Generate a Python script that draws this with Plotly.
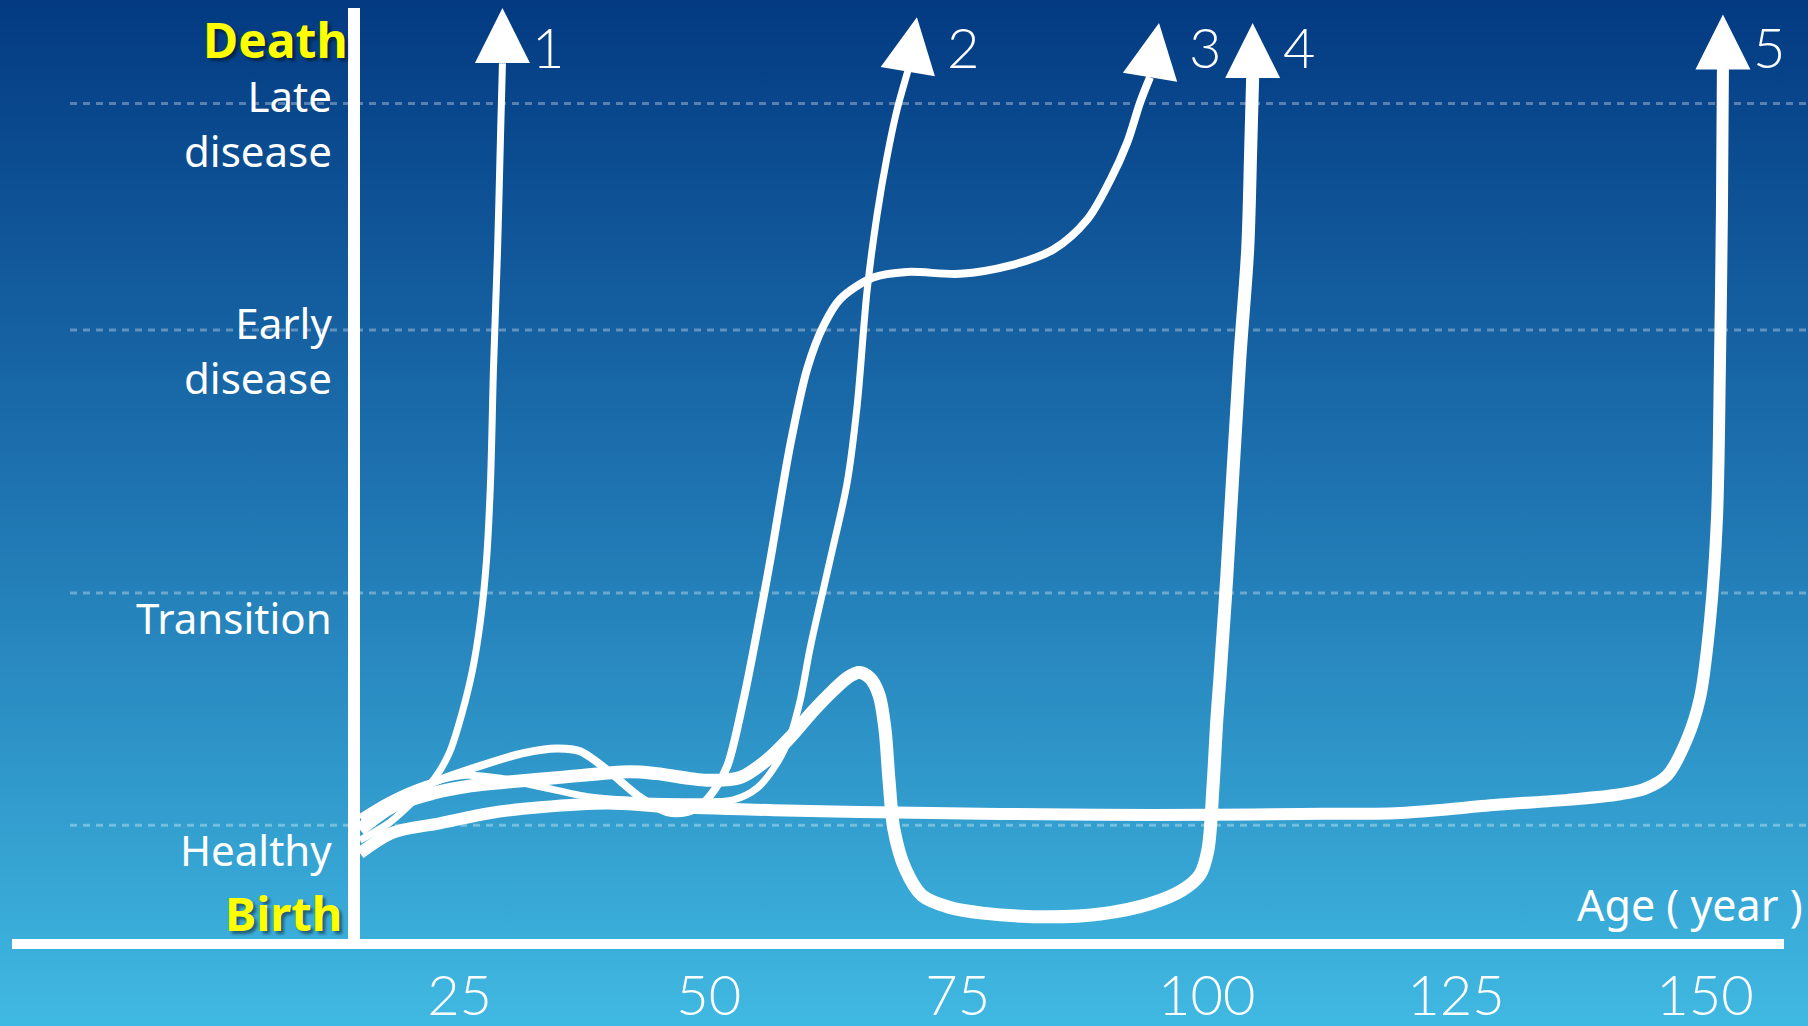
import base64
import plotly.graph_objects as go

# ---- axes: age in years, health state on a 0 (birth) .. 100 (death) scale ----
age_ticks = [25, 50, 75, 100, 125, 150]
level_names = ["Healthy", "Transition", "Early<br>disease", "Late<br>disease"]
level_values = [12.7, 37.5, 65.6, 89.8]

# ---- five life trajectories (age, health level) ----
path1_age = [15.0, 18.0, 20.5, 22.5, 24.0, 25.2, 26.3, 27.1, 27.7, 28.1, 28.4, 28.8, 29.1, 29.3]
path1_level = [11.1, 13.0, 15.4, 17.7, 20.5, 24.5, 29.3, 34.6, 41.0, 49.3, 61.5, 73.8, 86.1, 94.1]

path2_age = [15.0, 18.0, 21.5, 25.3, 29.1, 33.1, 38.1, 43.1, 48.1, 50.4, 52.5, 54.9, 56.9, 58.2,
             59.2, 60.2, 62.2, 63.9, 64.9, 65.9, 66.9, 67.9, 68.9, 70.0]
path2_level = [13.5, 15.4, 17.0, 18.0, 17.7, 16.8, 15.7, 15.3, 15.2, 15.2, 15.4, 16.7, 19.4, 22.3,
               26.1, 31.7, 41.1, 49.3, 57.5, 69.8, 77.9, 84.1, 89.1, 93.3]

path3_age = [15.0, 18.0, 22.0, 26.4, 31.4, 34.8, 37.1, 39.8, 43.1, 45.8, 47.8, 49.3, 50.6, 51.9,
             53.5, 54.7, 56.2, 58.2, 59.9, 61.5, 63.2, 66.5, 69.9, 75.2, 80.3, 84.6, 88.0, 90.3,
             92.0, 93.3, 94.3]
path3_level = [12.6, 14.7, 17.1, 18.8, 20.4, 20.9, 20.6, 18.6, 15.7, 14.1, 14.1, 14.9, 16.5, 19.1,
               26.1, 32.5, 41.1, 53.4, 61.5, 66.0, 68.9, 71.2, 71.8, 71.6, 72.5, 74.2, 77.4, 81.6,
               85.6, 89.9, 92.6]

path4_age = [15.0, 18.3, 22.3, 26.1, 29.8, 35.1, 42.1, 44.8, 49.8, 53.2, 55.9, 58.2, 60.4, 62.5,
             64.0, 65.1, 66.2, 67.1, 67.7, 68.1, 68.6, 69.7, 71.4, 74.2, 77.5, 84.3, 89.3, 94.3,
             97.6, 99.3, 100.1, 100.6, 101.0, 101.3, 102.0, 103.3, 104.1, 104.4, 104.6]
path4_level = [12.2, 14.7, 16.1, 16.9, 17.3, 17.8, 18.4, 18.2, 17.5, 17.8, 19.7, 22.1, 24.8, 27.1,
               28.5, 29.0, 28.4, 26.6, 22.9, 17.5, 12.2, 8.1, 5.2, 3.9, 3.3, 2.9, 3.2, 4.3,
               5.8, 7.4, 10.0, 16.5, 23.9, 28.2, 39.2, 62.4, 74.2, 84.8, 92.6]

path5_age = [15.0, 18.3, 23.0, 28.1, 33.1, 39.8, 46.4, 56.5, 65.2, 79.2, 89.3, 100.3, 109.4, 119.4,
             129.4, 136.2, 141.5, 144.0, 146.2, 148.2, 149.5, 150.5, 151.2, 151.5, 151.7, 151.8]
path5_level = [9.7, 11.9, 12.9, 14.0, 14.6, 15.0, 14.6, 14.3, 14.1, 13.9, 13.8, 13.8, 13.9, 14.0,
               14.9, 15.4, 16.0, 16.6, 18.0, 21.9, 26.3, 34.5, 45.4, 61.8, 78.1, 93.6]

# arrow tips (death) for each trajectory
tip_age = [29.3, 70.9, 95.2, 104.6, 151.8]
tip_level = [100.0, 99.0, 98.4, 98.4, 99.3]
path_labels = ["1", "2", "3", "4", "5"]

paths = [(path1_age, path1_level), (path2_age, path2_level), (path3_age, path3_level),
         (path4_age, path4_level), (path5_age, path5_level)]
line_widths = [7, 7, 8, 13, 12]

# ---- layout geometry (pixels) ----
W, H = 1808, 1026
L, R, T, B = 354, 0, 8, 82
PW, PH = W - L - R, H - T - B

def px_to_paper_x(px):
    return (px - L) / PW

fig = go.Figure()

for (ages, levels), lw in zip(paths, line_widths):
    fig.add_trace(go.Scatter(
        x=ages, y=levels, mode="lines",
        line=dict(color="white", width=lw, shape="spline", smoothing=0.9),
        hoverinfo="skip", cliponaxis=False,
    ))

# arrowheads: oriented along the final segment of each trajectory
for (ages, levels), tx, ty in zip(paths, tip_age, tip_level):
    fig.add_trace(go.Scatter(
        x=[ages[-1], tx], y=[levels[-1], ty], mode="markers",
        marker=dict(symbol="arrow-up", size=[0, 55], color="white", opacity=1,
                    angleref="previous", line=dict(width=0)),
        hoverinfo="skip", cliponaxis=False,
    ))

# background gradient
svg = (
    f'<svg xmlns="http://www.w3.org/2000/svg" width="{W}" height="{H}" '
    f'viewBox="0 0 {W} {H}" preserveAspectRatio="none">'
    '<defs><linearGradient id="g" x1="0" y1="0" x2="0" y2="1">'
    '<stop offset="0" stop-color="#033a82"/>'
    '<stop offset="0.5" stop-color="#1f76b2"/>'
    '<stop offset="1" stop-color="#40b9e2"/>'
    '</linearGradient></defs>'
    f'<rect width="{W}" height="{H}" fill="url(#g)"/></svg>'
)
bg_uri = "data:image/svg+xml;base64," + base64.b64encode(svg.encode()).decode()
fig.add_layout_image(
    source=bg_uri, xref="paper", yref="paper",
    x=-L / PW, y=1 + T / PH, sizex=W / PW, sizey=H / PH,
    xanchor="left", yanchor="top", sizing="stretch", layer="below",
)

# dotted level guides
for lv in level_values:
    fig.add_shape(type="line", xref="paper", yref="y",
                  x0=px_to_paper_x(70), x1=1, y0=lv, y1=lv, layer="below",
                  line=dict(color="rgba(255,255,255,0.32)", width=3, dash="7px,6px"))

# axis lines
fig.add_shape(type="line", xref="paper", yref="paper", x0=0, x1=0, y0=0, y1=1,
              line=dict(color="white", width=12))
fig.add_shape(type="line", xref="paper", yref="paper",
              x0=px_to_paper_x(12), x1=px_to_paper_x(1784), y0=0, y1=0,
              line=dict(color="white", width=10))

# level names, set just below their guide lines
label_font = dict(family="Noto Sans", size=42, color="white")
for name, lv in zip(level_names, level_values):
    n_lines = name.count("<br>") + 1
    fig.add_annotation(text=name, xref="paper", yref="y", x=px_to_paper_x(334), y=lv,
                       xanchor="right", yanchor="middle", align="right",
                       yshift=-24 + 4 * (n_lines - 1),
                       showarrow=False, font=label_font)

shadow = "3px 3px 3px rgba(0,0,0,0.45)"
fig.add_annotation(text="<b>Death</b>", xref="paper", yref="y", x=px_to_paper_x(350), y=96.6,
                   xanchor="right", yanchor="middle", showarrow=False,
                   font=dict(family="Noto Sans", size=48, color="#ffff00", shadow=shadow))
fig.add_annotation(text="<b>Birth</b>", xref="paper", yref="y", x=px_to_paper_x(344), y=3.3,
                   xanchor="right", yanchor="middle", showarrow=False,
                   font=dict(family="Noto Sans", size=47, color="#ffff00", shadow=shadow))

fig.add_annotation(text="Age ( year )", xref="paper", yref="y", x=px_to_paper_x(1805), y=4.2,
                   xanchor="right", yanchor="middle", showarrow=False,
                   font=dict(family="Noto Sans", size=43, color="white"))

num_font = dict(family="Lato", size=56, color="white", weight=300)
for lab, tx in zip(path_labels, tip_age):
    fig.add_annotation(text=lab, x=tx, y=95.9, xref="x", yref="y", xshift=46,
                       xanchor="center", yanchor="middle", showarrow=False, font=num_font)

fig.update_layout(
    width=W, height=H,
    margin=dict(l=L, r=R, t=T, b=B, autoexpand=False),
    paper_bgcolor="#40b9e2",
    plot_bgcolor="rgba(0,0,0,0)",
    showlegend=False,
    xaxis=dict(range=[14.40, 160.34], tickvals=age_ticks, showgrid=False, zeroline=False,
               showline=False, ticks="", ticklabelstandoff=14, fixedrange=True,
               automargin=False, tickfont=num_font),
    yaxis=dict(range=[0, 100], showticklabels=False, showgrid=False, zeroline=False,
               showline=False, fixedrange=True, automargin=False),
)

fig.write_html("out.html", config={"displayModeBar": False})
